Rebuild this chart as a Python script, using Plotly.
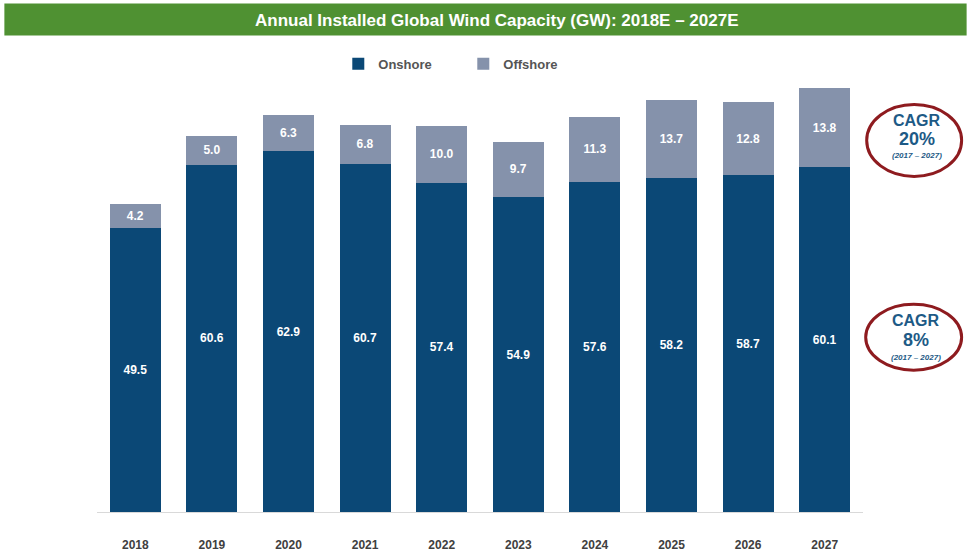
import plotly.graph_objects as go

years = ["2018", "2019", "2020", "2021", "2022", "2023", "2024", "2025", "2026", "2027"]
onshore = [49.5, 60.6, 62.9, 60.7, 57.4, 54.9, 57.6, 58.2, 58.7, 60.1]
offshore = [4.2, 5.0, 6.3, 6.8, 10.0, 9.7, 11.3, 13.7, 12.8, 13.8]

title_text = "Annual Installed Global Wind Capacity (GW): 2018E – 2027E"
FONT = "Liberation Sans, Arial, sans-serif"

fig = go.Figure()
fig.add_trace(go.Bar(
    x=years, y=onshore, name="Onshore",
    marker=dict(color="#0b4876", line=dict(width=0)),
    text=[f"{v:.1f}" for v in onshore], textposition="inside",
    insidetextanchor="middle", textangle=0, constraintext="none",
    textfont=dict(color="white", size=12, family=FONT, weight="bold"),
))
fig.add_trace(go.Bar(
    x=years, y=offshore, name="Offshore",
    marker=dict(color="#8592ab", line=dict(width=0)),
    text=[f"{v:.1f}" for v in offshore], textposition="inside",
    insidetextanchor="middle", textangle=0, constraintext="none",
    textfont=dict(color="white", size=12, family=FONT, weight="bold"),
))

W, H = 967, 554
ml, mr, mt, mb = 96.7, 103.7, 81.5, 42

fig.update_layout(
    width=W, height=H,
    margin=dict(l=ml, r=mr, t=mt, b=mb, pad=0, autoexpand=False),
    barmode="stack", bargap=0.335,
    paper_bgcolor="white", plot_bgcolor="white",
    font=dict(family=FONT),
    showlegend=True,
    legend=dict(
        orientation="h", x=0.315, y=1.077, xanchor="left", yanchor="top",
        font=dict(size=13, color="#555555", family=FONT, weight="bold"),
        itemsizing="constant", traceorder="normal", entrywidth=80,
        bgcolor="rgba(0,0,0,0)",
    ),
    xaxis=dict(
        type="category", range=[-0.5, 9.5], showgrid=False, automargin=False,
        showline=True, linecolor="#d9d9d9", linewidth=1,
        ticks="", ticklabelstandoff=22,
        tickfont=dict(size=12, color="#404040", family=FONT, weight="bold"),
    ),
    yaxis=dict(range=[0, 75], visible=False, showgrid=False, automargin=False),
    shapes=[
        dict(type="rect", xref="paper", yref="paper",
             x0=(4 - ml) / (W - ml - mr), x1=(W - ml) / (W - ml - mr),
             y0=(H - mb - 35) / (H - mt - mb), y1=(H - mb - 3) / (H - mt - mb),
             fillcolor="#4f9132", line=dict(width=0), layer="below"),
        dict(type="circle", xref="paper", yref="paper",
             x0=(867 - ml) / (W - ml - mr), x1=(962 - ml) / (W - ml - mr),
             y0=(H - mb - 176) / (H - mt - mb), y1=(H - mb - 104) / (H - mt - mb),
             line=dict(color="#8e1b1f", width=3)),
        dict(type="circle", xref="paper", yref="paper",
             x0=(866 - ml) / (W - ml - mr), x1=(962 - ml) / (W - ml - mr),
             y0=(H - mb - 370) / (H - mt - mb), y1=(H - mb - 304) / (H - mt - mb),
             line=dict(color="#8e1b1f", width=3)),
    ],
)

def px(x):
    return (x - ml) / (W - ml - mr)

def py(y):
    return (H - mb - y) / (H - mt - mb)

ann = [
    dict(text=f"<b>{title_text}</b>", x=px(497), y=py(20),
         font=dict(size=17, color="white", family=FONT)),
    dict(text="<b>CAGR</b>", x=px(917), y=py(120), font=dict(size=16, color="#1d5a86", family=FONT)),
    dict(text="<b>20%</b>", x=px(917), y=py(139), font=dict(size=18, color="#1d5a86", family=FONT)),
    dict(text="<b><i>(2017 – 2027)</i></b>", x=px(917), y=py(155), font=dict(size=8, color="#1d5a86", family=FONT)),
    dict(text="<b>CAGR</b>", x=px(916), y=py(320), font=dict(size=16, color="#1d5a86", family=FONT)),
    dict(text="<b>8%</b>", x=px(916), y=py(340), font=dict(size=18, color="#1d5a86", family=FONT)),
    dict(text="<b><i>(2017 – 2027)</i></b>", x=px(916), y=py(357), font=dict(size=8, color="#1d5a86", family=FONT)),
]
for a in ann:
    fig.add_annotation(xref="paper", yref="paper", showarrow=False,
                       xanchor="center", yanchor="middle", **a)

fig.write_html("out.html")
